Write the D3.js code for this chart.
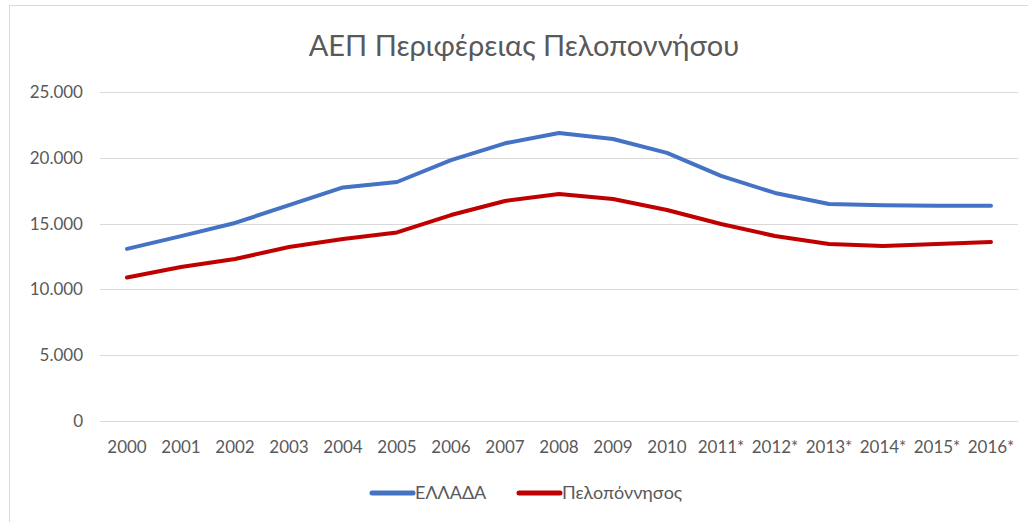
<!DOCTYPE html>
<html>
<head>
<meta charset="utf-8">
<script src="https://cdn.jsdelivr.net/npm/d3@7"></script>
<style>
  body { margin: 0; background: #fff; }
  svg text { font-family: Lato, "Noto Sans", sans-serif; fill: #595959; }
</style>
</head>
<body>
<svg id="chart" width="1028" height="522"></svg>
<script>
// κατηγορίες και τιμές
var years = ["2000", "2001", "2002", "2003", "2004", "2005", "2006", "2007", "2008", "2009", "2010",
  "2011*", "2012*", "2013*", "2014*", "2015*", "2016*"];
var ellada = [13080, 14050, 15050, 16400, 17750, 18160, 19830, 21100, 21880, 21430, 20370,
  18620, 17330, 16490, 16400, 16360, 16350];
var peloponnisos = [10900, 11700, 12310, 13220, 13830, 14330, 15650, 16720, 17250, 16870, 16030,
  14970, 14060, 13450, 13300, 13450, 13600];
var yTicks = [0, 5000, 10000, 15000, 20000, 25000];

var series = [
  { name: "ΕΛΛΑΔΑ", values: ellada, color: "#4472C4" },
  { name: "Πελοπόννησος", values: peloponnisos, color: "#C00000" }
];

var svg = d3.select("#chart");
var plotLeft = 100, plotRight = 1018, plotTop = 92, plotBottom = 421;

// πλαίσιο
svg.append("rect")
  .attr("x", 9.5).attr("y", 5.5)
  .attr("width", 1040).attr("height", 540)
  .attr("fill", "none").attr("stroke", "#d9d9d9");

var x = d3.scaleBand().domain(years).range([plotLeft, plotRight]);
var y = d3.scaleLinear().domain([0, 25000]).range([plotBottom, plotTop]);

var fmt = d3.formatLocale({ decimal: ",", thousands: ".", grouping: [3], currency: ["", "€"] }).format(",");

// γραμμές πλέγματος
svg.append("g").selectAll("line").data(yTicks).enter()
  .append("line")
  .attr("x1", plotLeft).attr("x2", plotRight)
  .attr("y1", function (d) { return Math.round(y(d)) + 0.5; })
  .attr("y2", function (d) { return Math.round(y(d)) + 0.5; })
  .attr("stroke", "#d9d9d9").attr("stroke-width", 1);

svg.append("g").selectAll("text").data(yTicks).enter()
  .append("text")
  .attr("x", 83)
  .attr("y", function (d) { return y(d); })
  .attr("dy", "0.35em")
  .attr("text-anchor", "end")
  .attr("font-size", 17)
  .text(function (d) { return fmt(d); });

// άξονας x
svg.append("g").selectAll("text").data(years).enter()
  .append("text")
  .attr("x", function (d) { return x(d) + x.bandwidth() / 2; })
  .attr("y", 453)
  .attr("text-anchor", "middle")
  .attr("font-size", 17)
  .text(function (d) { return d; });

var lineFun = d3.line()
  .x(function (d, i) { return x(years[i]) + x.bandwidth() / 2; })
  .y(function (d) { return y(d); });

svg.append("g").selectAll("path").data(series).enter()
  .append("path")
  .attr("d", function (d) { return lineFun(d.values); })
  .attr("fill", "none")
  .attr("stroke", function (d) { return d.color; })
  .attr("stroke-width", 4)
  .attr("stroke-linejoin", "round")
  .attr("stroke-linecap", "round");

// τίτλος
svg.append("text")
  .attr("x", 524).attr("y", 56)
  .attr("text-anchor", "middle")
  .attr("font-size", 29)
  .text("ΑΕΠ Περιφέρειας Πελοποννήσου");

// υπόμνημα
var legendPos = [370, 517];
var leg = svg.append("g").selectAll("g").data(series).enter()
  .append("g")
  .attr("transform", function (d, i) { return "translate(" + legendPos[i] + ",493)"; });
leg.append("line")
  .attr("x1", 2).attr("x2", 43)
  .attr("stroke", function (d) { return d.color; })
  .attr("stroke-width", 5)
  .attr("stroke-linecap", "round");
leg.append("text")
  .attr("x", 45).attr("dy", "0.35em")
  .attr("font-size", 18)
  .text(function (d) { return d.name; });
</script>
</body>
</html>
